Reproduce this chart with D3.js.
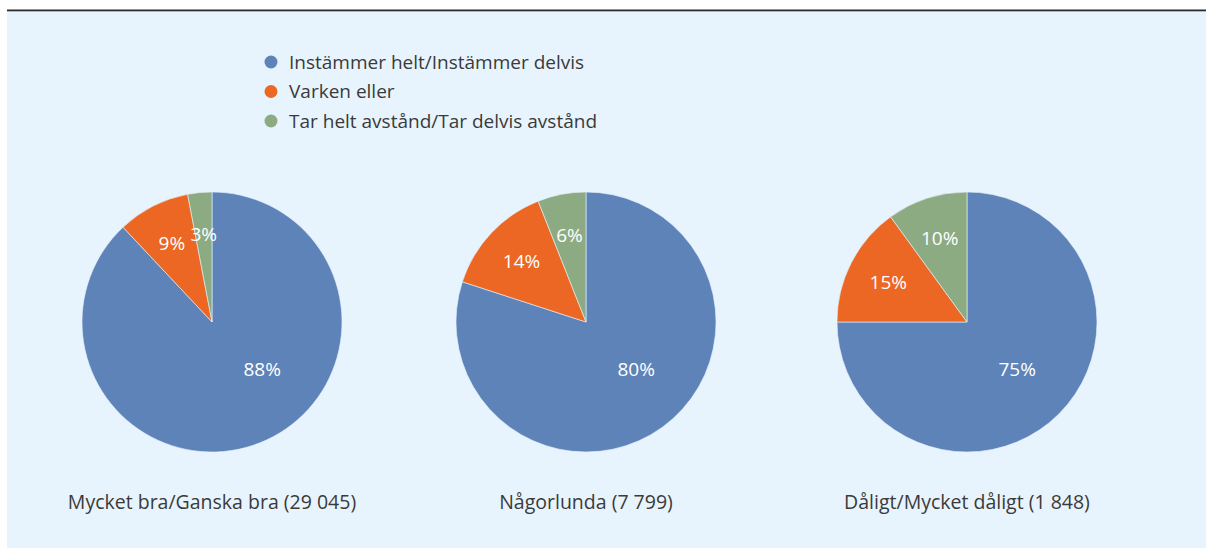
<!DOCTYPE html>
<html>
<head>
<meta charset="utf-8">
<script src="https://cdn.jsdelivr.net/npm/d3@7"></script>
<style>
  body { margin: 0; background: #fff; }
  svg { display: block; }
  text { font-family: "Open Sans", "DejaVu Sans", sans-serif; }
</style>
</head>
<body>
<svg id="chart" width="1206" height="548"></svg>
<script>
// data
const seriesNames = ["Instämmer helt/Instämmer delvis", "Varken eller", "Tar helt avstånd/Tar delvis avstånd"];
const groups = ["Mycket bra/Ganska bra (29 045)", "Någorlunda (7 799)", "Dåligt/Mycket dåligt (1 848)"];
const agree = [88, 80, 75];
const neither = [9, 14, 15];
const disagree = [3, 6, 10];
const colors = ["#5e83b8", "#ec6723", "#8dab83"];

const width = 1206, height = 548;
const svg = d3.select("#chart");

// panel + top rule
svg.append("rect").attr("x", 7).attr("y", 11).attr("width", width - 7).attr("height", height - 11)
  .attr("fill", "#e8f4fd");
svg.append("rect").attr("x", 7).attr("y", 9.5).attr("width", width - 7).attr("height", 1.8)
  .attr("fill", "#2b2b2b");

// legend
const legend = svg.append("g").attr("transform", "translate(271,62)");
const li = legend.selectAll("g").data(seriesNames).enter().append("g")
  .attr("transform", (d, i) => `translate(0,${i * 29.5})`);
li.append("circle").attr("r", 6.5).attr("fill", (d, i) => colors[i]);
li.append("text").attr("x", 18).attr("dy", "0.36em")
  .style("font-size", "19px").style("fill", "#3a3a3a").text(d => d);

// pies
const x = d3.scaleOrdinal().domain(groups).range([212, 586, 967]);
const radius = 130;
const cy = 322;
const pie = d3.pie().sort(null).value(d => d.v);
const arc = d3.arc().innerRadius(0).outerRadius(radius);

groups.forEach((g, gi) => {
  const vals = [agree[gi], neither[gi], disagree[gi]].map((v, i) => ({ v, i }));
  const arcs = pie(vals);
  const gp = svg.append("g").attr("transform", `translate(${x(g)},${cy})`);

  gp.selectAll("path").data(arcs).enter().append("path")
    .attr("d", arc)
    .attr("fill", d => colors[d.data.i])
    .attr("stroke", "#e8f4fd").attr("stroke-width", 0.6);

  gp.selectAll("text.lbl").data(arcs).enter().append("text")
    .attr("class", "lbl")
    .attr("transform", d => {
      let a = (d.startAngle + d.endAngle) / 2;
      let r = radius * 0.68;
      if (d.data.i === 0) { a = Math.min(a, Math.PI * 0.74); r = radius * 0.53; }
      return `translate(${Math.sin(a) * r},${-Math.cos(a) * r})`;
    })
    .attr("text-anchor", "middle").attr("dy", "0.36em")
    .style("font-size", "19px").style("fill", "#fff")
    .text(d => d.data.v + "%");

  svg.append("text").attr("x", x(g)).attr("y", 502).attr("dy", "0.36em")
    .attr("text-anchor", "middle")
    .style("font-size", "19.5px").style("fill", "#3a3a3a")
    .text(g);
});
</script>
</body>
</html>
